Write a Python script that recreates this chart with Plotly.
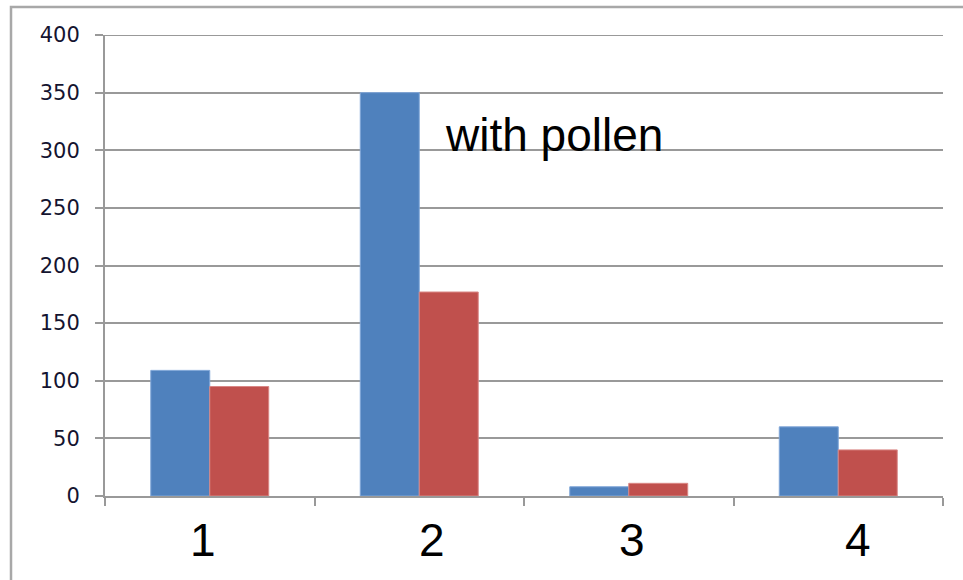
import plotly.graph_objects as go

# Chart data
categories = ["1", "2", "3", "4"]
series_a = [109, 350, 8, 60]     # blue series
series_b = [95, 177, 11, 40]     # red series
y_ticks = [0, 50, 100, 150, 200, 250, 300, 350, 400]
note_text = "with pollen"

# Horizontal nudges (in category units) for the large category labels
label_offsets = [-0.032, 0.061, 0.016, 0.094]

W, H = 963, 580
L, R, T, B = 105, 20, 35, 84
GRID = "#999999"

fig = go.Figure()
fig.add_bar(x=categories, y=series_a, marker=dict(color="#4F81BD", line=dict(color="#7FA6D8", width=1)),
            showlegend=False)
fig.add_bar(x=categories, y=series_b, marker=dict(color="#C0504D", line=dict(color="#D98785", width=1)),
            showlegend=False)

annotations = []
for i, (cat, off) in enumerate(zip(categories, label_offsets)):
    annotations.append(dict(
        x=i + off, y=-0.096, xref="x", yref="paper", text=cat, showarrow=False,
        font=dict(family="Liberation Sans, Arial", size=46, color="black"),
        xanchor="center", yanchor="middle",
    ))
annotations.append(dict(
    x=1.645, y=0.782, xref="x", yref="paper", text=note_text, showarrow=False,
    font=dict(family="Liberation Sans, Arial", size=46, color="black"),
    xanchor="center", yanchor="middle",
))

plot_w = W - L - R
plot_h = H - T - B
shapes = [
    # outer frame around the chart
    dict(type="rect", xref="paper", yref="paper",
         x0=(11 - L) / plot_w, x1=1.2,
         y0=-0.4, y1=(H - B - 7) / plot_h,
         line=dict(color="#A8A8A8", width=2.5), layer="below"),
    # gridline at the top of the value range
    dict(type="line", xref="paper", yref="y", x0=0, x1=1,
         y0=max(y_ticks), y1=max(y_ticks),
         line=dict(color=GRID, width=2), layer="below"),
]

fig.update_layout(
    width=W, height=H, autosize=False,
    margin=dict(l=L, r=R, t=T, b=B, pad=0),
    paper_bgcolor="white", plot_bgcolor="white",
    barmode="group", bargap=0.437, bargroupgap=0,
    annotations=annotations, shapes=shapes,
    xaxis=dict(
        type="category", range=[-0.5, 3.5], showticklabels=False,
        showline=True, linecolor=GRID, linewidth=2,
        ticks="outside", tickson="boundaries", ticklen=8, tickwidth=2, tickcolor=GRID,
        showgrid=False, zeroline=False,
    ),
    yaxis=dict(
        range=[0, 400], tickvals=y_ticks, ticktext=[str(v) for v in y_ticks],
        showline=True, linecolor=GRID, linewidth=2,
        ticks="outside", ticklen=8, tickwidth=2, tickcolor=GRID,
        showgrid=True, gridcolor=GRID, gridwidth=2, zeroline=False,
        tickfont=dict(family="DejaVu Sans, Verdana", size=21, color="#141430"),
        ticklabelstandoff=11,
    ),
)

fig.write_html("out.html")
